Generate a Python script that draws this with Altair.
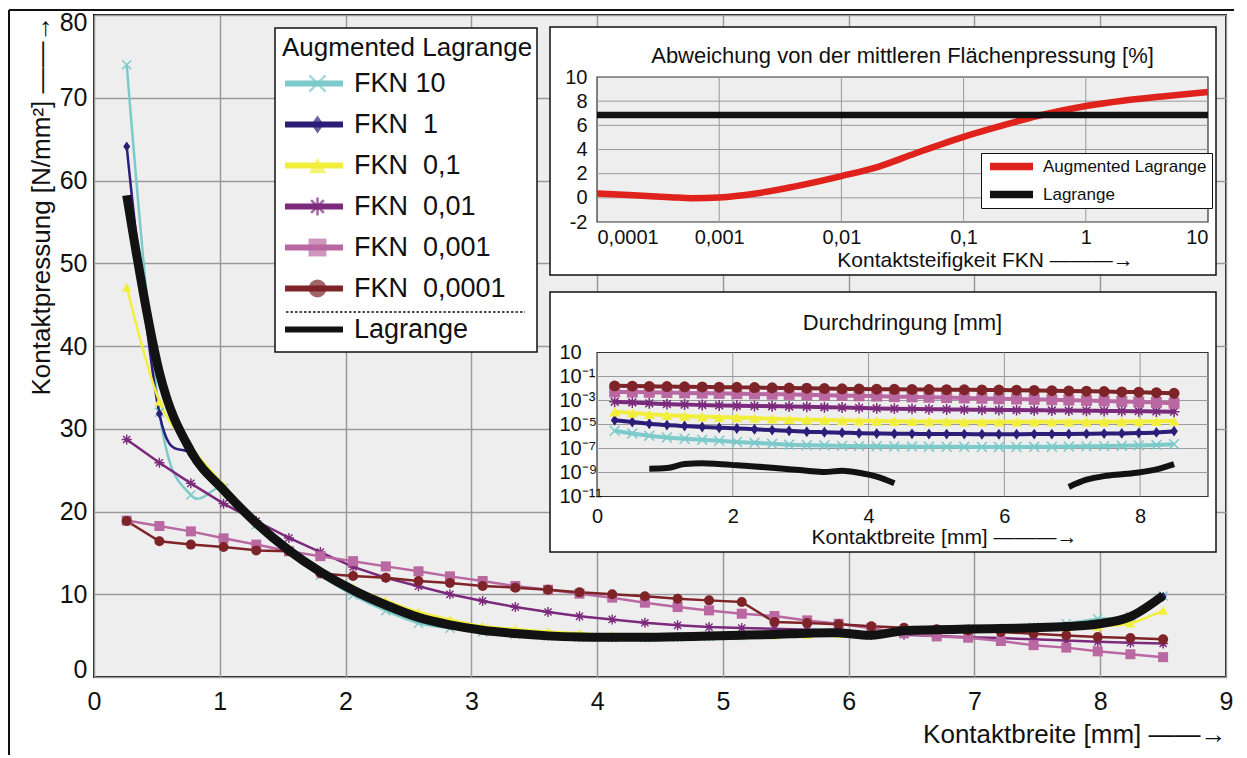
import altair as alt
import pandas as pd

FONT = "Liberation Sans"
INK = "#111111"
GRID = "#9a9a9a"

# ---------------- data: main chart (contact pressure) ----------------
x_pos = [0.26, 0.52, 0.77, 1.03, 1.29, 1.55, 1.80, 2.06, 2.32, 2.58, 2.83,
         3.09, 3.35, 3.61, 3.86, 4.12, 4.38, 4.64, 4.89, 5.15, 5.41, 5.67,
         5.92, 6.18, 6.44, 6.70, 6.95, 7.21, 7.47, 7.73, 7.98, 8.24, 8.50]

series_names = ["FKN 10", "FKN\u00a0\u00a01", "FKN\u00a0\u00a00,1",
                "FKN\u00a0\u00a00,01", "FKN\u00a0\u00a00,001", "FKN\u00a0\u00a00,0001"]
series_colors = ["#7ccaca", "#2b1d78", "#f2ef3c", "#7b2a7c", "#b968a2", "#7e2428"]
lagrange_name = "Lagrange"
lagrange_color = "#121212"

p_fkn10 = [74.0, 32.0, 22.0, 22.8, 18.4, 15.1, 12.3, 9.9, 8.0, 6.5, 5.9,
           5.45, 5.15, 4.92, 4.8, 4.75, 4.75, 4.8, 4.9, 5.0, 5.1, 5.25,
           5.35, 5.1, 5.55, 5.65, 5.75, 5.85, 6.05, 6.45, 7.05, 7.3, 9.8]
p_fkn1 = [64.1, 31.8, 26.9, 22.6, 18.6, 15.3, 12.7, 10.5, 8.7, 7.2, 6.3,
          5.65, 5.25, 4.97, 4.83, 4.8, 4.8, 4.85, 4.95, 5.05, 5.15, 5.3,
          5.35, 5.05, 5.6, 5.7, 5.8, 5.85, 5.95, 6.1, 6.4, 7.3, 9.7]
p_fkn01 = [47.1, 33.3, 27.8, 23.2, 18.9, 15.5, 12.8, 10.8, 9.25, 7.85, 6.95,
           6.15, 5.8, 5.5, 5.3, 5.1, 5.0, 4.95, 5.0, 5.05, 5.1, 5.15,
           5.25, 5.2, 5.35, 5.45, 5.55, 5.65, 5.75, 5.9, 6.1, 6.5, 8.05]
p_fkn001 = [28.7, 25.9, 23.4, 20.95, 18.85, 16.8, 15.1, 13.3, 12.0, 10.96, 9.99,
            9.18, 8.45, 7.85, 7.33, 6.96, 6.56, 6.24, 6.03, 5.91, 5.84, 5.7,
            5.55, 5.35, 5.1, 4.95, 4.8, 4.7, 4.55, 4.4, 4.25, 4.15, 4.05]
p_fkn0001 = [18.9, 18.25, 17.6, 16.76, 16.0, 15.2, 14.6, 14.0, 13.37, 12.77, 12.16,
             11.6, 11.0, 10.55, 10.07, 9.59, 8.98, 8.45, 8.05, 7.65, 7.37, 6.84,
             6.44, 5.9, 5.3, 4.9, 4.75, 4.35, 3.85, 3.55, 3.1, 2.75, 2.4]
p_fkn00001 = [18.85, 16.4, 16.0, 15.7, 15.3, 15.2, 12.5, 12.2, 12.0, 11.6, 11.36,
              11.0, 10.8, 10.55, 10.23, 9.99, 9.75, 9.46, 9.26, 9.06, 6.64, 6.52,
              6.36, 6.12, 5.96, 5.76, 5.63, 5.43, 5.23, 5.03, 4.83, 4.71, 4.55]
p_lagrange = [58.2, 36.8, 27.3, 22.6, 18.6, 15.3, 12.7, 10.5, 8.7, 7.2, 6.3,
              5.65, 5.25, 4.97, 4.83, 4.8, 4.8, 4.85, 4.95, 5.05, 5.15, 5.3,
              5.35, 5.05, 5.6, 5.7, 5.8, 5.85, 5.95, 6.1, 6.4, 7.3, 9.85]
pressure = [p_fkn10, p_fkn1, p_fkn01, p_fkn001, p_fkn0001, p_fkn00001]
x_ticks_main = [0, 1, 2, 3, 4, 5, 6, 7, 8, 9]
y_ticks_main = [0, 10, 20, 30, 40, 50, 60, 70, 80]

# ---------------- data: inset 1 (deviation of mean pressure, %) ----------------
fkn_values = [1e-4, 2e-4, 4e-4, 6e-4, 1e-3, 2e-3, 4e-3, 1e-2, 2e-2, 4e-2,
              1e-1, 2e-1, 4e-1, 1, 2, 4, 10]
dev_augmented = [0.36, 0.22, 0.05, -0.03, 0.03, 0.36, 0.91, 1.8, 2.57, 3.67,
                 5.05, 5.94, 6.77, 7.6, 8.04, 8.37, 8.76]
fkn_lagrange = [1e-4, 10]
dev_lagrange = [6.85, 6.85]
dev_methods = ["Augmented Lagrange", "Lagrange"]
dev_colors = ["#e0221c", INK]
fkn_ticks = [1e-4, 1e-3, 1e-2, 1e-1, 1, 10]
dev_ticks = [-2, 0, 2, 4, 6, 8, 10]

# ---------------- data: inset 2 (penetration, mm) ----------------
pen_fkn10 = [3.0e-6, 1.8e-6, 1.17e-6, 8.3e-7, 6.6e-7, 5.4e-7, 4.4e-7, 3.5e-7, 3.0e-7, 2.45e-7, 2.1e-7,
             1.9e-7, 1.8e-7, 1.66e-7, 1.58e-7, 1.55e-7, 1.48e-7, 1.45e-7, 1.41e-7, 1.38e-7, 1.38e-7, 1.35e-7,
             1.35e-7, 1.35e-7, 1.38e-7, 1.41e-7, 1.45e-7, 1.51e-7, 1.58e-7, 1.7e-7, 1.82e-7, 2.0e-7, 2.3e-7]
pen_fkn1 = [2.3e-5, 1.6e-5, 1.17e-5, 8.9e-6, 7.4e-6, 6.3e-6, 5.4e-6, 4.7e-6, 4.0e-6, 3.4e-6, 3.0e-6,
            2.5e-6, 2.3e-6, 2.1e-6, 1.9e-6, 1.8e-6, 1.7e-6, 1.66e-6, 1.62e-6, 1.58e-6, 1.58e-6, 1.55e-6,
            1.55e-6, 1.55e-6, 1.58e-6, 1.58e-6, 1.62e-6, 1.66e-6, 1.74e-6, 1.82e-6, 1.95e-6, 2.2e-6, 2.8e-6]
pen_fkn01 = [1.15e-4, 8.9e-5, 7.1e-5, 5.8e-5, 5.0e-5, 4.5e-5, 4.1e-5, 3.8e-5, 3.4e-5, 3.0e-5, 2.75e-5,
             2.5e-5, 2.35e-5, 2.2e-5, 2.05e-5, 1.95e-5, 1.86e-5, 1.82e-5, 1.78e-5, 1.74e-5, 1.7e-5, 1.66e-5,
             1.66e-5, 1.66e-5, 1.66e-5, 1.66e-5, 1.66e-5, 1.7e-5, 1.7e-5, 1.74e-5, 1.78e-5, 1.86e-5, 2.0e-5]
pen_fkn001 = [7.9e-4, 6.8e-4, 5.8e-4, 5.0e-4, 4.6e-4, 4.2e-4, 3.9e-4, 3.6e-4, 3.5e-4, 3.3e-4, 3.2e-4,
              3.0e-4, 2.75e-4, 2.6e-4, 2.4e-4, 2.2e-4, 2.1e-4, 2.0e-4, 1.9e-4, 1.8e-4, 1.74e-4, 1.7e-4,
              1.62e-4, 1.58e-4, 1.55e-4, 1.48e-4, 1.45e-4, 1.41e-4, 1.35e-4, 1.32e-4, 1.29e-4, 1.23e-4, 1.17e-4]
pen_fkn0001 = [5.2e-3, 5.0e-3, 4.8e-3, 4.6e-3, 4.3e-3, 4.1e-3, 3.9e-3, 3.7e-3, 3.5e-3, 3.3e-3, 3.2e-3,
               3.0e-3, 2.8e-3, 2.6e-3, 2.45e-3, 2.3e-3, 2.1e-3, 2.0e-3, 1.86e-3, 1.74e-3, 1.62e-3, 1.51e-3,
               1.41e-3, 1.32e-3, 1.23e-3, 1.15e-3, 1.07e-3, 1.0e-3, 9.1e-4, 8.3e-4, 7.6e-4, 6.8e-4, 6.0e-4]
pen_fkn00001 = [1.66e-2, 1.58e-2, 1.51e-2, 1.45e-2, 1.38e-2, 1.35e-2, 1.29e-2, 1.26e-2, 1.2e-2, 1.15e-2, 1.1e-2,
                1.05e-2, 1.0e-2, 9.5e-3, 9.1e-3, 8.7e-3, 8.5e-3, 8.3e-3, 8.1e-3, 7.9e-3, 7.8e-3, 7.6e-3,
                7.4e-3, 7.2e-3, 6.9e-3, 6.6e-3, 6.3e-3, 6.0e-3, 5.6e-3, 5.2e-3, 4.9e-3, 4.5e-3, 4.0e-3]
penetration = [pen_fkn10, pen_fkn1, pen_fkn01, pen_fkn001, pen_fkn0001, pen_fkn00001]
pen_lag_left_x = [0.77, 1.03, 1.29, 1.55, 1.80, 2.06, 2.32, 2.58, 2.83, 3.09, 3.35, 3.61, 3.86, 4.12, 4.38]
pen_lag_left = [2.1e-9, 2.4e-9, 5.0e-9, 5.8e-9, 5.0e-9, 4.0e-9, 3.2e-9, 2.5e-9, 1.9e-9, 1.4e-9, 1.1e-9,
                1.4e-9, 9.5e-10, 4.5e-10, 1.25e-10]
pen_lag_right_x = [6.95, 7.21, 7.47, 7.73, 7.98, 8.24, 8.50]
pen_lag_right = [6.3e-11, 2.5e-10, 5.0e-10, 7.1e-10, 1.0e-9, 1.8e-9, 5.0e-9]
pen_ticks = [10, 1e-1, 1e-3, 1e-5, 1e-7, 1e-9, 1e-11]
width_ticks_inset = [0, 2, 4, 6, 8]

# ---------------- tables ----------------
main_df = pd.DataFrame([{"x": x, "y": v, "series": s}
                        for s, vals in zip(series_names, pressure)
                        for x, v in zip(x_pos, vals)])
lag_df = pd.DataFrame({"x": x_pos, "y": p_lagrange})
dev_df = pd.DataFrame(
    [{"fkn": f, "dev": d, "method": dev_methods[0]} for f, d in zip(fkn_values, dev_augmented)]
    + [{"fkn": f, "dev": d, "method": dev_methods[1]} for f, d in zip(fkn_lagrange, dev_lagrange)])
pen_df = pd.DataFrame([{"w": x, "pen": v, "series": s}
                       for s, vals in zip(series_names, penetration)
                       for x, v in zip(x_pos, vals)])
pen_lag_df = pd.DataFrame(
    [{"w": x, "pen": v, "seg": "a"} for x, v in zip(pen_lag_left_x, pen_lag_left)]
    + [{"w": x, "pen": v, "seg": "b"} for x, v in zip(pen_lag_right_x, pen_lag_right)])
leg_names = series_names + [lagrange_name]
leg_df = pd.DataFrame({"leg": leg_names})
legp_df = pd.DataFrame({"legp": series_names})
one_df = pd.DataFrame({"k": [0]})

# marker shapes
SHAPE_X = "M-1,-0.8L-0.8,-1L0,-0.2L0.8,-1L1,-0.8L0.2,0L1,0.8L0.8,1L0,0.2L-0.8,1L-1,0.8L-0.2,0Z"
SHAPE_DIAMOND = "M0,-1L0.7,0L0,1L-0.7,0Z"
SHAPE_AST = ("M-1,-0.14L-0.14,-0.14L-0.14,-1L0.14,-1L0.14,-0.14L1,-0.14L1,0.14L0.14,0.14"
             "L0.14,1L-0.14,1L-0.14,0.14L-1,0.14Z"
             "M-0.81,-0.61L-0.61,-0.81L0,-0.2L0.61,-0.81L0.81,-0.61L0.2,0L0.81,0.61"
             "L0.61,0.81L0,0.2L-0.61,0.81L-0.81,0.61L-0.2,0Z")
shape_range = [SHAPE_X, SHAPE_DIAMOND, "triangle-up", SHAPE_AST, "square", "circle"]

ARROW2 = "\u2014\u2014\u2192"
ARROW3 = "\u2014\u2014\u2014\u2192"

# ---------------- layout (plot-area pixels) ----------------
W, H = 1132, 662
IN_X = [503, 1114]          # both insets, horizontal pixel range
TOP_Y = [207, 62]           # inset 1 vertical pixel range (bottom, top)
BOT_Y = [481.5, 337.5]      # inset 2 vertical pixel range (bottom, top)

# ---------------- main chart ----------------
axis_common = dict(domain=False, ticks=False, tickSize=0, labelFont=FONT, labelColor=INK,
                   titleFont=FONT, titleFontWeight="normal", titleColor=INK)
X = alt.X("x:Q", scale=alt.Scale(domain=[0, 9], nice=False),
          axis=alt.Axis(orient="bottom", values=x_ticks_main, grid=True, gridColor=GRID, gridWidth=1.5,
                        labelFontSize=25, labelPadding=12, labelFlush=False,
                        title="Kontaktbreite [mm]  " + ARROW2, titleFontSize=26,
                        titleAnchor="end", titlePadding=7, **axis_common))
Y = alt.Y("y:Q", scale=alt.Scale(domain=[0, 80], nice=False),
          axis=alt.Axis(orient="left", values=y_ticks_main, grid=True, gridColor=GRID, gridWidth=1.5,
                        labelFontSize=25, labelPadding=7, labelFlush=True, labelFlushOffset=5,
                        title="Kontaktpressung [N/mm\u00b2]  " + ARROW2, titleFontSize=26,
                        titleAnchor="end", titlePadding=5, **axis_common))
col_main = alt.Scale(domain=series_names, range=series_colors)

smooth_lines = alt.Chart(main_df).transform_filter(
    alt.FieldOneOfPredicate(field="series", oneOf=series_names[:3])
).mark_line(interpolate="cardinal", strokeWidth=2.5).encode(
    x=X, y=Y, color=alt.Color("series:N", scale=col_main, legend=None))
straight_lines = alt.Chart(main_df).transform_filter(
    alt.FieldOneOfPredicate(field="series", oneOf=series_names[3:])
).mark_line(strokeWidth=2.5).encode(
    x=X, y=Y, color=alt.Color("series:N", scale=col_main, legend=None))
main_points = alt.Chart(main_df).mark_point(filled=True, size=100, opacity=1).encode(
    x=X, y=Y, color=alt.Color("series:N", scale=col_main, legend=None),
    shape=alt.Shape("series:N", scale=alt.Scale(domain=series_names, range=shape_range), legend=None))
lag_line = alt.Chart(lag_df).mark_line(interpolate="cardinal", strokeWidth=9, color=lagrange_color).encode(
    x=X, y=Y)
main_data = alt.layer(smooth_lines, straight_lines, main_points, lag_line)

# decorations: white inset boxes, figure frame, legend box and separator
box_top = alt.Chart(one_df).mark_rect(fill="white", stroke=INK, strokeWidth=1.5).encode(
    x=alt.value(456), x2=alt.value(1122), y=alt.value(12), y2=alt.value(260))
box_bottom = alt.Chart(one_df).mark_rect(fill="white", stroke=INK, strokeWidth=1.5).encode(
    x=alt.value(456), x2=alt.value(1122), y=alt.value(277), y2=alt.value(537))
frame_left = alt.Chart(one_df).mark_rule(color=INK, strokeWidth=2).encode(
    x=alt.value(-85), y=alt.value(-5), y2=alt.value(740))
frame_top = alt.Chart(one_df).mark_rule(color=INK, strokeWidth=2).encode(
    x=alt.value(-85), x2=alt.value(1140), y=alt.value(-5))
legend_box = alt.Chart(one_df).mark_rect(fill="white", stroke=INK, strokeWidth=1.5).encode(
    x=alt.value(181), x2=alt.value(443), y=alt.value(13), y2=alt.value(337))
legend_sep = alt.Chart(one_df).mark_rule(color=INK, strokeWidth=1.5, strokeDash=[2.5, 2]).encode(
    x=alt.value(192), x2=alt.value(431), y=alt.value(297))

# ---------------- inset 1: deviation vs. contact stiffness ----------------
inset_axis = dict(grid=False, domain=False, ticks=False, tickSize=0, zindex=1,
                  labelFont=FONT, labelColor=INK, labelFontSize=20, titleFont=FONT,
                  titleFontWeight="normal", titleColor=INK, titleFontSize=21)
X_top = alt.X("fkn:Q", scale=alt.Scale(type="log", domain=[1e-4, 10], range=IN_X, nice=False),
              axis=alt.Axis(orient="bottom", offset=TOP_Y[0] - H, values=fkn_ticks,
                            labelExpr="replace(format(datum.value, '~g'), '.', ',')",
                            labelFlush=True, labelPadding=5, title="Kontaktsteifigkeit FKN  " + ARROW3,
                            titleX=891, titleAlign="center", titlePadding=2, **inset_axis))
Y_top = alt.Y("dev:Q", scale=alt.Scale(domain=[-2, 10], range=TOP_Y, nice=False),
              axis=alt.Axis(orient="left", offset=-IN_X[0], values=dev_ticks, labelExpr="'' + datum.value",
                            labelPadding=10, title=None, **inset_axis))
top_bg = alt.Chart(pd.DataFrame({"fkn": [fkn_ticks[0]], "fkn_end": [fkn_ticks[-1]],
                                 "dev": [dev_ticks[0]], "dev_end": [dev_ticks[-1]]})).mark_rect(
    fill="#eeeeee", stroke="#333333", strokeWidth=1.2).encode(x=X_top, x2="fkn_end", y=Y_top, y2="dev_end")
top_vgrid = alt.Chart(pd.DataFrame({"fkn": fkn_ticks[1:-1]}).assign(
    dev=dev_ticks[0], dev_end=dev_ticks[-1])).mark_rule(color=GRID, strokeWidth=1).encode(
    x=X_top, y=Y_top, y2="dev_end")
top_hgrid = alt.Chart(pd.DataFrame({"dev": dev_ticks[1:-1]}).assign(
    fkn=fkn_ticks[0], fkn_end=fkn_ticks[-1])).mark_rule(color=GRID, strokeWidth=1).encode(
    x=X_top, x2="fkn_end", y=Y_top)
top_title = alt.Chart(one_df).mark_text(
    text="Abweichung von der mittleren Fl\u00e4chenpressung [%]", font=FONT, fontSize=22, color=INK,
    align="center", baseline="alphabetic").encode(x=alt.value((IN_X[0] + IN_X[1]) / 2), y=alt.value(48))
top_lines = alt.Chart(dev_df).mark_line(interpolate="monotone", strokeWidth=6.5).encode(
    x=X_top, y=Y_top,
    color=alt.Color("method:N", scale=alt.Scale(domain=dev_methods, range=dev_colors),
                    legend=alt.Legend(orient="none", legendX=887, legendY=138, title=None,
                                      symbolType="stroke", symbolSize=1849, symbolStrokeWidth=7.5,
                                      labelFont=FONT, labelFontSize=17, labelColor=INK, labelOffset=6,
                                      labelLimit=300, padding=5, rowPadding=10, clipHeight=17,
                                      fillColor="white", strokeColor=INK, zindex=1)))
top_inset = alt.layer(top_bg, top_vgrid, top_hgrid, top_title, top_lines)

# ---------------- inset 2: penetration vs. contact width ----------------
X_bot = alt.X("w:Q", scale=alt.Scale(domain=[0, 9], range=IN_X, nice=False),
              axis=alt.Axis(orient="bottom", offset=BOT_Y[0] - H, values=width_ticks_inset,
                            labelFlush=False, labelPadding=10, title="Kontaktbreite [mm]  " + ARROW3,
                            titleX=850, titleAlign="center", titlePadding=0, **inset_axis))
Y_bot = alt.Y("pen:Q", scale=alt.Scale(type="log", domain=[1e-11, 10], range=BOT_Y, nice=False),
              axis=alt.Axis(orient="left", offset=-IN_X[0], values=pen_ticks,
                            labelExpr=("datum.value > 1 ? '10' : datum.value > 0.01 ? '10\u207b\u00b9' : "
                                       "datum.value > 0.0001 ? '10\u207b\u00b3' : datum.value > 0.000001 ? "
                                       "'10\u207b\u2075' : datum.value > 0.00000001 ? '10\u207b\u2077' : "
                                       "datum.value > 0.0000000001 ? '10\u207b\u2079' : '10\u207b\u00b9\u00b9'"),
                            labelAlign="left", labelPadding=38, title=None, **inset_axis))
bot_bg = alt.Chart(pd.DataFrame({"w": [0], "w_end": [9], "pen": [pen_ticks[-1]],
                                 "pen_end": [pen_ticks[0]]})).mark_rect(
    fill="#eeeeee", stroke="#333333", strokeWidth=1.2).encode(x=X_bot, x2="w_end", y=Y_bot, y2="pen_end")
bot_vgrid = alt.Chart(pd.DataFrame({"w": width_ticks_inset[1:]}).assign(
    pen=pen_ticks[-1], pen_end=pen_ticks[0])).mark_rule(color=GRID, strokeWidth=1).encode(
    x=X_bot, y=Y_bot, y2="pen_end")
bot_hgrid = alt.Chart(pd.DataFrame({"pen": pen_ticks[1:-1]}).assign(w=0, w_end=9)).mark_rule(
    color=GRID, strokeWidth=1).encode(x=X_bot, x2="w_end", y=Y_bot)
bot_title = alt.Chart(one_df).mark_text(
    text="Durchdringung [mm]", font=FONT, fontSize=22, color=INK,
    align="center", baseline="alphabetic").encode(x=alt.value((IN_X[0] + IN_X[1]) / 2), y=alt.value(315))
col_bot = alt.Scale(domain=series_names, range=series_colors)
bot_lines = alt.Chart(pen_df).mark_line(interpolate="monotone", strokeWidth=4).encode(
    x=X_bot, y=Y_bot, color=alt.Color("series:N", scale=col_bot, legend=None))
bot_lag = alt.Chart(pen_lag_df).mark_line(interpolate="monotone", strokeWidth=6, color=lagrange_color).encode(
    x=X_bot, y=Y_bot, detail="seg:N")
bot_points = alt.Chart(pen_df).mark_point(filled=True, size=120, opacity=1).encode(
    x=X_bot, y=Y_bot, color=alt.Color("series:N", scale=col_bot, legend=None),
    shape=alt.Shape("series:N", scale=alt.Scale(domain=series_names, range=shape_range), legend=None))
bottom_inset = alt.layer(bot_bg, bot_vgrid, bot_hgrid, bot_title, bot_lines, bot_lag, bot_points)

# ---------------- main legend (lines + markers overlaid) ----------------
legend_common = dict(orient="none", legendX=181, legendY=13,
                     titleFont=FONT, titleFontSize=26, titleFontWeight="normal", titleColor=INK,
                     titlePadding=9, titleLimit=400, labelFont=FONT, labelFontSize=27,
                     labelColor=INK, labelOffset=8, labelLimit=400, padding=7, rowPadding=13,
                     clipHeight=27)
leg_line_def = alt.Legend(title="Augmented Lagrange", symbolType="stroke", symbolSize=3364,
                          zindex=1, **legend_common)
legend_lines = alt.Chart(leg_df).transform_filter("false").mark_line().encode(
    color=alt.Color("leg:N", scale=alt.Scale(domain=leg_names, range=series_colors + [lagrange_color]),
                    legend=leg_line_def),
    strokeWidth=alt.StrokeWidth("leg:N", scale=alt.Scale(domain=leg_names, range=[6, 6, 6, 6, 6, 6, 10]),
                                legend=leg_line_def))
leg_pt_def = alt.Legend(title=" ", symbolSize=320, symbolOffset=22, symbolStrokeWidth=0,
                        labelExpr="''", zindex=2, **legend_common)
legend_points = alt.Chart(legp_df).transform_filter("false").mark_point(filled=True).encode(
    color=alt.Color("legp:N", scale=alt.Scale(domain=series_names, range=series_colors), legend=leg_pt_def),
    shape=alt.Shape("legp:N", scale=alt.Scale(domain=series_names, range=shape_range), legend=leg_pt_def))

chart = alt.layer(
    main_data, box_top, box_bottom, frame_left, frame_top, legend_box, legend_sep,
    top_inset, bottom_inset, legend_lines, legend_points
).resolve_scale(
    x="independent", y="independent", color="independent", shape="independent", strokeWidth="independent"
).properties(
    width=W, height=H,
    view=alt.ViewBackground(fill="#eeeeee", stroke=INK, strokeWidth=2),
    padding={"left": 8, "top": 9, "right": 0, "bottom": 0}, background="white"
).configure_view(stroke="transparent").configure(font=FONT)

chart.save("out.html", embed_options={"renderer": "svg", "actions": False})
